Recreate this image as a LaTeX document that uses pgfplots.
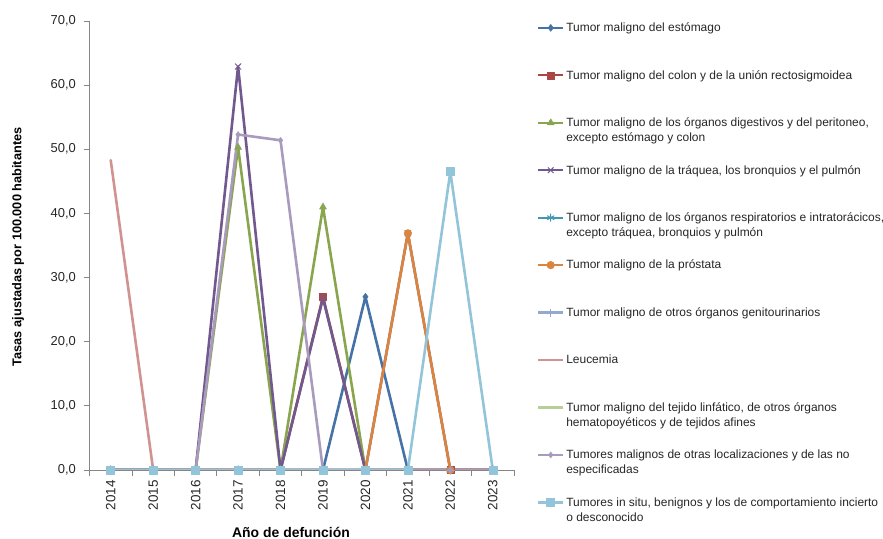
\documentclass[border=0pt]{standalone}
\usepackage{fontspec}
\setmainfont{Liberation Sans}
\usepackage{pgfplots}
\usepackage{pgfplotstable}
\pgfplotsset{compat=1.18}

\definecolor{cEst}{HTML}{4572A7}
\definecolor{cCol}{HTML}{AA4643}
\definecolor{cDig}{HTML}{89A54E}
\definecolor{cTra}{HTML}{71588F}
\definecolor{cRes}{HTML}{4198AF}
\definecolor{cPro}{HTML}{DB843D}
\definecolor{cGen}{HTML}{93A9CF}
\definecolor{cLeu}{HTML}{D19392}
\definecolor{cLin}{HTML}{B9CD96}
\definecolor{cOtr}{HTML}{A99BBD}
\definecolor{cSit}{HTML}{92C5D9}
\definecolor{axisgray}{HTML}{868686}
\definecolor{txt}{HTML}{262626}

% Tasas ajustadas por 100.000 habitantes, por año de defunción
\pgfplotstableread{
year est  col  dig  tra  res pro  gen leu  lin otr  sit
2014 0    0    0    0    0   0    0   48.3 0   0    0
2015 0    0    0    0    0   0    0   0    0   0    0
2016 0    0    0    0    0   0    0   0    0   0    0
2017 0    0    50.3 62.9 0   0    0   0    0   52.3 0
2018 0    0    0    0    0   0    0   0    0   51.4 0
2019 0    27.0 41.0 26.8 0   0    0   0    0   0    0
2020 27.0 0    0    0    0   0    0   0    0   0    0
2021 0    0    0    36.9 0   36.9 0   0    0   0    0
2022 0    0    0    0    0   0    0   0    0   0    46.5
2023 0    0    0    0    0   0    0   0    0   0    0
}\datatable

\newcommand{\legtext}[1]{\parbox[t]{320bp}{\strut #1}}

\begin{document}
\begin{tikzpicture}
\useasboundingbox (0,0) rectangle (883bp,539bp);
\begin{axis}[
  at={(89.5bp,69bp)}, anchor=south west,
  scale only axis, width=424.5bp, height=449bp,
  xmin=2013.5, xmax=2023.5, ymin=0, ymax=70,
  axis x line*=bottom, axis y line*=left,
  axis line style={draw=axisgray, line width=0.9bp},
  tick align=outside, major tick length=6bp,
  tick style={draw=axisgray, line width=0.9bp},
  /pgf/number format/assume math mode=true,
  ytick={0,10,20,30,40,50,60,70},
  yticklabel style={/pgf/number format/.cd, fixed, fixed zerofill, precision=1, use comma,
    /tikz/.cd, font=\fontsize{13}{15}\selectfont, text=txt, inner sep=0pt, xshift=-7.5bp},
  xtick={2013.5,2014.5,2015.5,2016.5,2017.5,2018.5,2019.5,2020.5,2021.5,2022.5,2023.5},
  x tick label as interval,
  xticklabels={2014,2015,2016,2017,2018,2019,2020,2021,2022,2023},
  xticklabel style={yshift=-4bp, rotate=90, anchor=east, font=\fontsize{13.5}{15}\selectfont, text=txt, inner sep=0pt},
  xlabel={Año de defunción},
  xlabel style={font=\bfseries\fontsize{14}{16}\selectfont, text=black, at={(axis description cs:0.4747,-0.138)}, anchor=center},
  ylabel={Tasas ajustadas por 100.000 habitantes},
  ylabel style={font=\bfseries\fontsize{12.8}{15}\selectfont, text=black, at={(axis description cs:-0.168,0.497)}, anchor=center},
  every axis plot/.append style={line width=2.6bp, line join=round, line cap=round},
  legend cell align=left,
  legend style={at={(axis description cs:1.054,1.0)}, anchor=north west, draw=none, fill=none,
    inner sep=0pt, row sep=35.5bp, column sep=2bp, font=\fontsize{12}{15}\selectfont, text=txt,
    nodes={anchor=base west, inner sep=0pt}},
  legend image code/.code={\draw[mark repeat=2, mark phase=2, line width=2.2bp, line cap=butt]
    plot coordinates {(0bp,3.8bp)(12.5bp,3.8bp)(25bp,3.8bp)};},
]
\addplot[color=cEst, mark=diamond*, mark size=3.5bp, mark options={solid, fill=cEst, line width=0.5bp}] table[x=year, y=est] {\datatable};
\addlegendentry{\legtext{Tumor maligno del estómago}}
\addplot[color=cCol, mark=square*, mark size=3.5bp, mark options={solid, fill=cCol, line width=0.5bp}] table[x=year, y=col] {\datatable};
\addlegendentry{\legtext{Tumor maligno del colon y de la unión rectosigmoidea}}
\addplot[color=cDig, mark=triangle*, mark size=4bp, mark options={solid, fill=cDig, line width=0.5bp}] table[x=year, y=dig] {\datatable};
\addlegendentry{\legtext{Tumor maligno de los órganos digestivos y del peritoneo,\\excepto estómago y colon}}
\addplot[color=cTra, mark=x, mark size=4bp, mark options={solid, line width=1bp}] table[x=year, y=tra] {\datatable};
\addlegendentry{\legtext{Tumor maligno de la tráquea, los bronquios y el pulmón}}
\addplot[color=cRes, mark=asterisk, mark size=4bp, mark options={solid, line width=1bp}] table[x=year, y=res] {\datatable};
\addlegendentry{\legtext{Tumor maligno de los órganos respiratorios e intratorácicos,\\excepto tráquea, bronquios y pulmón}}
\addplot[color=cPro, mark=*, mark size=3.8bp, mark options={solid, fill=cPro, line width=0.5bp}] table[x=year, y=pro] {\datatable};
\addlegendentry{\legtext{Tumor maligno de la próstata}}
\addplot[color=cGen, mark=+, mark size=4bp, mark options={solid, line width=1bp}] table[x=year, y=gen] {\datatable};
\addlegendentry{\legtext{Tumor maligno de otros órganos genitourinarios}}
\addplot[color=cLeu, no markers] table[x=year, y=leu] {\datatable};
\addlegendentry{\legtext{Leucemia}}
\addplot[color=cLin, no markers] table[x=year, y=lin] {\datatable};
\addlegendentry{\legtext{Tumor maligno del tejido linfático, de otros órganos\\hematopoyéticos y de tejidos afines}}
\addplot[color=cOtr, mark=diamond*, mark size=3bp, mark options={solid, fill=cOtr, line width=0.5bp}] table[x=year, y=otr] {\datatable};
\addlegendentry{\legtext{Tumores malignos de otras localizaciones y de las no\\especificadas}}
\addplot[color=cSit, mark=square*, mark size=4bp, mark options={solid, fill=cSit, line width=0.5bp}] table[x=year, y=sit] {\datatable};
\addlegendentry{\legtext{Tumores in situ, benignos y los de comportamiento incierto\\o desconocido}}
\end{axis}
\end{tikzpicture}
\end{document}
